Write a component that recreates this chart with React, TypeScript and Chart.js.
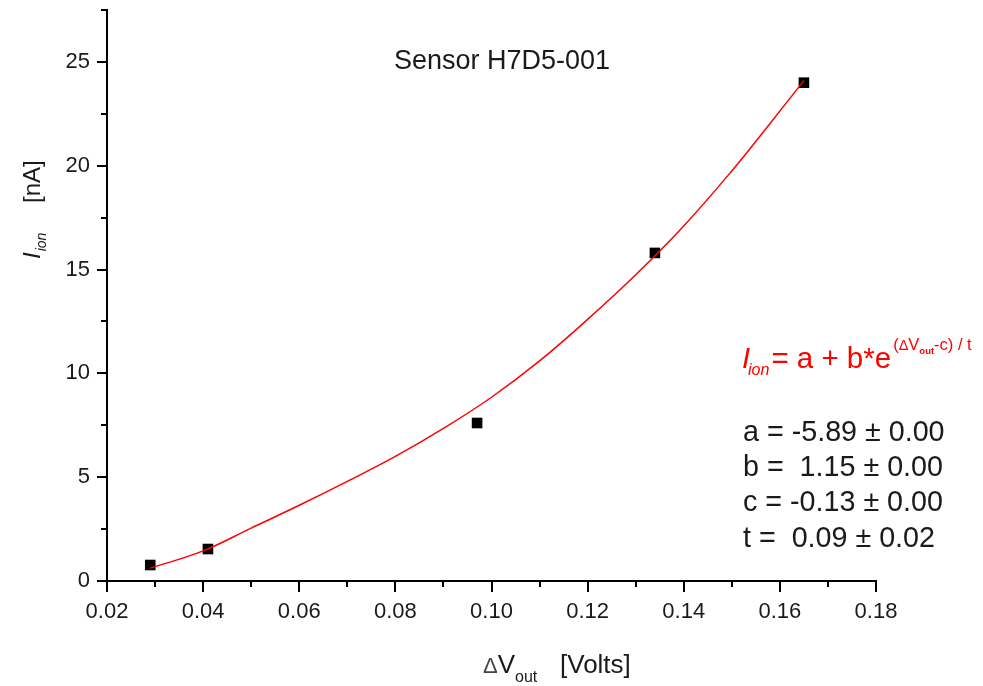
import React, { useEffect, useRef } from "react";
import { Chart, registerables } from "chart.js";

Chart.register(...registerables);

// Measured data points
const voltsData = [0.029, 0.041, 0.097, 0.134, 0.165];
const currentData = [0.77, 1.54, 7.61, 15.8, 24.0];

// Fit curve
const curveVolts = [0.029, 0.04, 0.05, 0.06, 0.07, 0.08, 0.09, 0.10, 0.11, 0.12, 0.13, 0.14, 0.15, 0.158, 0.165];
const curveCurrent = [0.62, 1.45, 2.55, 3.65, 4.8, 6.0, 7.35, 8.85, 10.6, 12.6, 14.75, 17.1, 19.75, 22.05, 24.1];

const titleText = "Sensor H7D5-001";
const fitParams = ["a = -5.89 ± 0.00", "b =  1.15 ± 0.00", "c = -0.13 ± 0.00", "t =  0.09 ± 0.02"];

const FONT = "'Liberation Sans', Arial, sans-serif";
const TEXT = "#1a1a1a";

const annotate = {
  id: "annotate",
  afterDraw(chart: any) {
    const ctx = chart.ctx as CanvasRenderingContext2D;
    const xs = chart.scales.x;
    const ys = chart.scales.y;
    const area = chart.chartArea;
    ctx.save();
    // ticks
    ctx.strokeStyle = "#000";
    ctx.lineWidth = 2;
    xs.ticks.forEach((t: any) => {
      const major = Math.round(t.value * 100) % 2 === 0;
      const px = Math.round(xs.getPixelForValue(t.value));
      ctx.beginPath();
      ctx.moveTo(px, area.bottom);
      ctx.lineTo(px, area.bottom + (major ? 11 : 6));
      ctx.stroke();
    });
    ys.ticks.forEach((t: any) => {
      const major = Math.abs(t.value % 5) < 1e-6;
      const py = Math.round(ys.getPixelForValue(t.value));
      ctx.beginPath();
      ctx.moveTo(area.left, py);
      ctx.lineTo(area.left - (major ? 10 : 6), py);
      ctx.stroke();
    });

    // title
    ctx.fillStyle = TEXT;
    ctx.textBaseline = "alphabetic";
    ctx.textAlign = "left";
    ctx.font = `27px ${FONT}`;
    ctx.fillText(titleText, 394, 69);

    // x axis title
    let x = 483;
    const xb = 673;
    ctx.font = `22px ${FONT}`;
    ctx.fillStyle = "#444";
    ctx.fillText("Δ", x, xb);
    x += ctx.measureText("Δ").width;
    ctx.fillStyle = TEXT;
    ctx.font = `26px ${FONT}`;
    ctx.fillText("V", x, xb);
    x += ctx.measureText("V").width;
    ctx.font = `16px ${FONT}`;
    ctx.fillText("out", x, xb + 9);
    ctx.font = `26px ${FONT}`;
    ctx.fillText("[Volts]", 560, xb);

    // y axis title (rotated)
    ctx.save();
    ctx.translate(40, 259);
    ctx.rotate(-Math.PI / 2);
    let yx = 0;
    ctx.font = `italic 24px ${FONT}`;
    ctx.fillText("I", yx, 0);
    yx += ctx.measureText("I").width + 1;
    ctx.font = `italic 14px ${FONT}`;
    ctx.fillText("ion", yx, 6);
    ctx.font = `24px ${FONT}`;
    ctx.fillText("[nA]", 56, 0);
    ctx.restore();

    // formula
    ctx.fillStyle = "#ff0000";
    let fx = 742;
    ctx.font = `italic 29px ${FONT}`;
    ctx.fillText("I", fx, 368);
    fx += ctx.measureText("I").width;
    ctx.font = `italic 16px ${FONT}`;
    ctx.fillText("ion", fx - 2, 375);
    fx += ctx.measureText("ion").width;
    ctx.font = `29.5px ${FONT}`;
    ctx.fillText("= a + b*e", fx, 368);
    fx += ctx.measureText("= a + b*e").width + 2;
    ctx.font = `16.5px ${FONT}`;
    ctx.fillText("(", fx, 350);
    fx += ctx.measureText("(").width;
    ctx.font = `14.5px ${FONT}`;
    ctx.fillText("Δ", fx, 350);
    fx += ctx.measureText("Δ").width;
    ctx.font = `16.5px ${FONT}`;
    ctx.fillText("V", fx, 350);
    fx += ctx.measureText("V").width;
    ctx.font = `bold 9.5px ${FONT}`;
    ctx.fillText("out", fx, 354);
    fx += ctx.measureText("out").width;
    ctx.font = `16.5px ${FONT}`;
    ctx.fillText("-c) / t", fx, 350);

    // fit params
    ctx.fillStyle = TEXT;
    ctx.font = `28.7px ${FONT}`;
    fitParams.forEach((s, i) => {
      ctx.fillText(s, 743, 441 + i * 35.2);
    });
    ctx.restore();
  },
};

export default function App() {
  const ref = useRef<HTMLCanvasElement | null>(null);
  useEffect(() => {
    if (!ref.current) return;
    const chart = new Chart(ref.current, {
      type: "scatter",
      data: {
        datasets: [
          {
            label: "fit",
            data: curveVolts.map((v, i) => ({ x: v, y: curveCurrent[i] })),
            showLine: true,
            borderColor: "#ff0000",
            borderWidth: 1.5,
            pointRadius: 0,
            tension: 0.4,
          },
          {
            label: "data",
            data: voltsData.map((v, i) => ({ x: v, y: currentData[i] })),
            pointStyle: "rect",
            pointRadius: 7.5,
            backgroundColor: "#000",
            borderColor: "#000",
            borderWidth: 0,
          },
        ],
      },
      options: {
        animation: false,
        responsive: true,
        maintainAspectRatio: false,
        layout: { padding: { left: 0, right: 107, top: 10, bottom: 0 } },
        plugins: { legend: { display: false }, tooltip: { enabled: false }, title: { display: false } },
        scales: {
          x: {
            type: "linear",
            min: 0.02,
            max: 0.18,
            afterFit: (s: any) => {
              s.height = 105;
              s.paddingLeft = 0;
              s.paddingRight = 0;
            },
            border: { display: true, color: "#000", width: 2 },
            grid: { display: true, drawOnChartArea: false, drawTicks: false },
            ticks: {
              stepSize: 0.01,
              autoSkip: false,
              maxRotation: 0,
              padding: 18,
              color: TEXT,
              font: { family: FONT, size: 22 },
              callback: (v: any) => (Math.round(Number(v) * 100) % 2 === 0 ? Number(v).toFixed(2) : ""),
            },
          },
          y: {
            type: "linear",
            min: 0,
            max: 27.5,
            afterFit: (s: any) => {
              s.width = 107;
              s.paddingTop = 0;
              s.paddingBottom = 0;
            },
            border: { display: true, color: "#000", width: 2 },
            grid: { display: true, drawOnChartArea: false, drawTicks: false },
            ticks: {
              stepSize: 2.5,
              autoSkip: false,
              padding: 17,
              color: TEXT,
              font: { family: FONT, size: 22 },
              callback: (v: any) => (Math.abs(Number(v) % 5) < 1e-6 ? String(v) : ""),
            },
          },
        },
      },
      plugins: [annotate],
    } as any);
    return () => chart.destroy();
  }, []);
  return (
    <div style={{ position: "fixed", left: 0, top: 0, width: 983, height: 686, background: "#fff" }}>
      <canvas ref={ref} />
    </div>
  );
}
